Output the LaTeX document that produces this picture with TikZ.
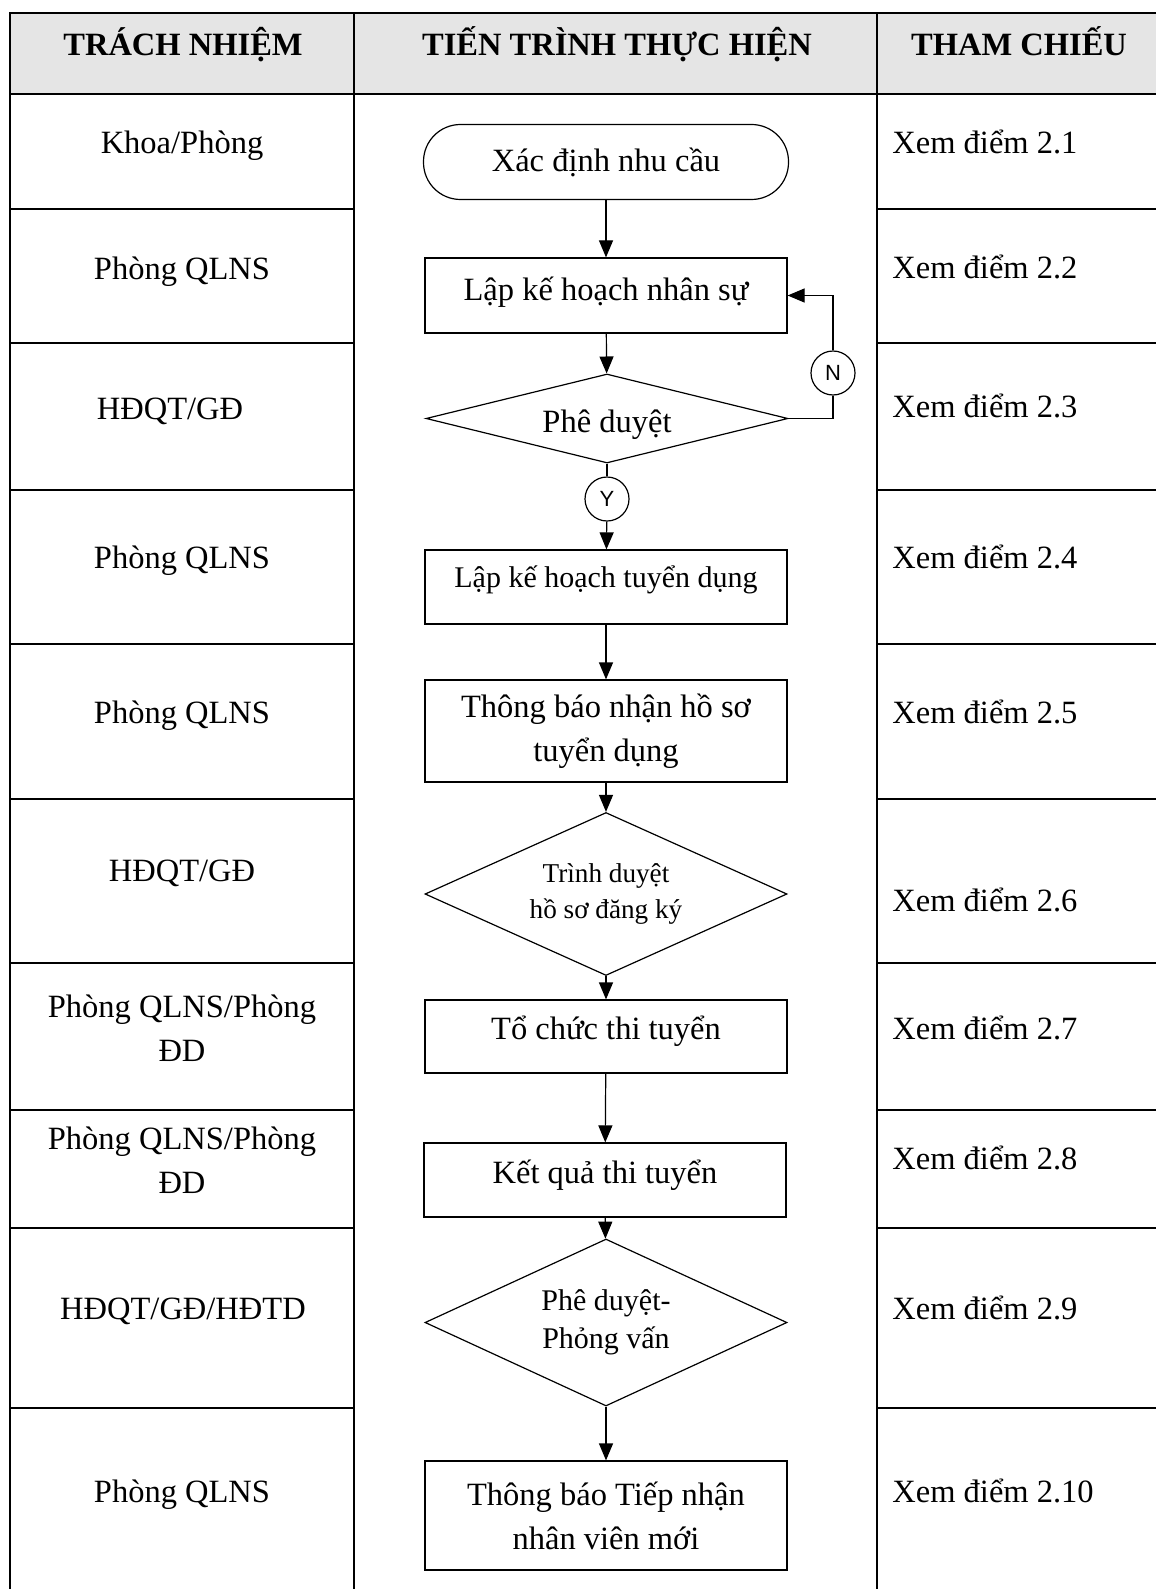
\documentclass[tikz,border=0pt]{standalone}
\usepackage{fontspec}
\setmainfont{Liberation Serif}
\setsansfont{Liberation Sans}
\usetikzlibrary{shapes,arrows.meta,positioning}

\begin{document}
\begin{tikzpicture}[x=0.5pt, y=-0.5pt, >={Triangle[length=8.5pt,width=7pt]},
        every node/.style={font=\fontsize{16.25}{22}\selectfont},
        head/.style={anchor=base, font=\fontsize{16.25}{22}\selectfont\bfseries},
        grid/.style={line width=1pt},
        thin grid/.style={line width=0.6pt},
        flow/.style={line width=0.6pt},
        startstop/.style={draw, flow, rounded corners=18.5pt, minimum width=182.5pt, minimum height=37.5pt},
        process/.style={draw, flow, minimum width=181pt, align=center},
        decision/.style={draw, flow, diamond, aspect=2.2, inner sep=0pt, minimum width=181pt, align=center},
        answer/.style={draw, flow, circle, minimum size=22pt, inner sep=0pt, font=\sffamily\fontsize{11}{13}\selectfont},
        who/.style={align=center},
        ref/.style={anchor=west, inner xsep=0pt}]
        \useasboundingbox (0,0) rectangle (1156,1589);

        \fill[gray!20] (10,13) rectangle (1156,94);
        \draw[grid] (1156,13) -- (10,13) -- (10,1589);
        \draw[grid] (10,94) -- (1156,94);
        \draw[grid] (354,13) -- (354,1589);
        \draw[grid] (877,13) -- (877,1589);
        \foreach \y in {209,343,490,644,799,963,1110,1228,1408} {
            \draw[grid] (10,\y) -- (354,\y);
            \draw[thin grid] (877,\y) -- (1156,\y);
        }

        \node (h1) [head] at (183,56) {TRÁCH NHIỆM};
        \node (h2) [head] at (617,56) {TIẾN TRÌNH THỰC HIỆN};
        \node (h3) [head] at (1019,56) {THAM CHIẾU};

        \node (w1) [who] at (182,146) {Khoa/Phòng};
        \node (w2) [who] at (182,272) {Phòng QLNS};
        \node (w3) [who] at (170,411) {HĐQT/GĐ};
        \node (w4) [who] at (182,561) {Phòng QLNS};
        \node (w5) [who] at (182,716) {Phòng QLNS};
        \node (w6) [who] at (182,873) {HĐQT/GĐ};
        \node (w7) [who] at (182,1028) {Phòng QLNS/Phòng\\ĐD};
        \node (w8) [who] at (182,1160) {Phòng QLNS/Phòng\\ĐD};
        \node (w9) [who] at (183,1311) {HĐQT/GĐ/HĐTD};
        \node (w10) [who] at (182,1495) {Phòng QLNS};

        \foreach \y [count=\i] in {142,267,406,557,712,900,1028,1158,1308,1491}
            \node (r\i) [ref] at (892,\y) {Xem điểm 2.\i};

        \node (start) [startstop] at (606,162) {Xác định nhu cầu};
        \node (plan) [process, minimum height=37.5pt, text depth=6.5pt] at (606,295.5) {Lập kế hoạch nhân sự};
        \node (approve) [decision, aspect=4, minimum height=44.5pt, text height=17.5pt] at (607,418.5) {Phê duyệt};
        \node (yes) [answer] at (607,499) {Y};
        \node (no) [answer] at (833,373) {N};
        \node (recruit) [process, minimum height=37pt, text depth=10pt, font=\fontsize{15}{19}\selectfont] at (606,587) {Lập kế hoạch tuyển dụng};
        \node (notice) [process, minimum height=51pt] at (606,731) {Thông báo nhận hồ sơ\\tuyển dụng};
        \node (review) [decision, minimum height=81.5pt, font=\fontsize{13.6}{18}\selectfont] at (606,894) {Trình duyệt\\hồ sơ đăng ký};
        \node (exam) [process, minimum height=36.5pt, text depth=8.5pt] at (606,1036.5) {Tổ chức thi tuyển};
        \node (result) [process, minimum height=37pt, text depth=8.5pt] at (605,1180) {Kết quả thi tuyển};
        \node (interview) [decision, minimum height=83.5pt, font=\fontsize{15}{19}\selectfont] at (606,1322.5) {Phê duyệt-\\Phỏng vấn};
        \node (welcome) [process, minimum height=54.5pt] at (606,1515.5) {Thông báo Tiếp nhận\\nhân viên mới};

        \draw[flow, ->] (start) -- (plan);
        \draw[flow, ->] (plan) -- (approve);
        \draw[flow] (approve) -- (yes);
        \draw[flow, ->] (yes) -- (recruit);
        \draw[flow] (approve.east) -| (no);
        \draw[flow, ->] (no) |- (plan.east);
        \draw[flow, ->] (recruit) -- (notice);
        \draw[flow, ->] (notice) -- (review);
        \draw[flow, ->] (review) -- (exam);
        \draw[flow, ->] (exam) -- (result);
        \draw[flow, ->] (result) -- (interview);
        \draw[flow, ->] (interview) -- (welcome);
    \end{tikzpicture}
\end{document}
